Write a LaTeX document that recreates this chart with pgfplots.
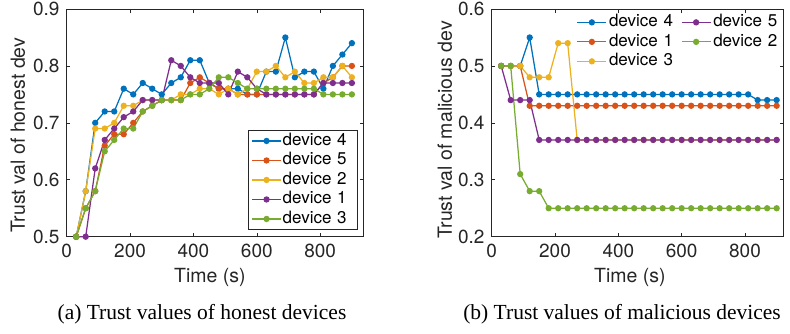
\documentclass[border=0pt]{standalone}
\usepackage{fontspec}
\setmainfont{Liberation Serif}
\newfontfamily\heros{TeX Gyre Heros}
\usepackage{pgfplots}
\usepackage{pgfplotstable}
\pgfplotsset{compat=1.18}
\definecolor{mblue}{rgb}{0,0.447,0.741}
\definecolor{morange}{rgb}{0.850,0.325,0.098}
\definecolor{myellow}{rgb}{0.929,0.694,0.125}
\definecolor{mpurple}{rgb}{0.494,0.184,0.556}
\definecolor{mgreen}{rgb}{0.466,0.674,0.188}
\definecolor{axgray}{rgb}{0.15,0.15,0.15}
\tikzset{lblfont/.style={font=\heros\fontsize{19.5}{20}\selectfont, text=axgray}}

\pgfplotstableread{
t d4 d5 d2 d1 d3
30 0.50 0.50 0.50 0.50 0.50
60 0.58 0.55 0.58 0.50 0.55
90 0.70 0.58 0.69 0.62 0.58
120 0.72 0.66 0.69 0.67 0.65
150 0.72 0.68 0.70 0.69 0.67
180 0.76 0.68 0.73 0.71 0.69
210 0.75 0.70 0.73 0.72 0.69
240 0.77 0.72 0.74 0.74 0.72
270 0.76 0.73 0.74 0.74 0.73
300 0.75 0.74 0.74 0.74 0.74
330 0.77 0.74 0.74 0.81 0.74
360 0.78 0.74 0.75 0.80 0.74
390 0.81 0.77 0.75 0.78 0.75
420 0.81 0.78 0.76 0.77 0.75
450 0.77 0.77 0.76 0.77 0.76
480 0.76 0.76 0.75 0.77 0.78
510 0.76 0.76 0.76 0.75 0.78
540 0.76 0.75 0.75 0.79 0.77
570 0.75 0.75 0.76 0.78 0.76
600 0.75 0.75 0.79 0.76 0.76
630 0.79 0.75 0.79 0.75 0.76
660 0.79 0.75 0.80 0.75 0.76
690 0.85 0.75 0.78 0.75 0.76
720 0.78 0.75 0.79 0.75 0.76
750 0.79 0.75 0.77 0.75 0.76
780 0.79 0.75 0.77 0.75 0.76
810 0.76 0.77 0.78 0.77 0.75
840 0.80 0.78 0.78 0.77 0.75
870 0.82 0.80 0.80 0.77 0.75
900 0.84 0.80 0.78 0.77 0.75
}\honest

\pgfplotstableread{
t d4 d1 d3 d5 d2
30 0.50 0.50 0.50 0.50 0.50
60 0.50 0.50 0.50 0.44 0.50
90 0.50 0.50 0.50 0.44 0.31
120 0.55 0.43 0.48 0.44 0.28
150 0.45 0.43 0.48 0.37 0.28
180 0.45 0.43 0.48 0.37 0.25
210 0.45 0.43 0.54 0.37 0.25
240 0.45 0.43 0.54 0.37 0.25
270 0.45 0.43 0.37 0.37 0.25
300 0.45 0.43 0.37 0.37 0.25
330 0.45 0.43 0.37 0.37 0.25
360 0.45 0.43 0.37 0.37 0.25
390 0.45 0.43 0.37 0.37 0.25
420 0.45 0.43 0.37 0.37 0.25
450 0.45 0.43 0.37 0.37 0.25
480 0.45 0.43 0.37 0.37 0.25
510 0.45 0.43 0.37 0.37 0.25
540 0.45 0.43 0.37 0.37 0.25
570 0.45 0.43 0.37 0.37 0.25
600 0.45 0.43 0.37 0.37 0.25
630 0.45 0.43 0.37 0.37 0.25
660 0.45 0.43 0.37 0.37 0.25
690 0.45 0.43 0.37 0.37 0.25
720 0.45 0.43 0.37 0.37 0.25
750 0.45 0.43 0.37 0.37 0.25
780 0.45 0.43 0.37 0.37 0.25
810 0.45 0.43 0.37 0.37 0.25
840 0.44 0.43 0.37 0.37 0.25
870 0.44 0.43 0.37 0.37 0.25
900 0.44 0.43 0.37 0.37 0.25
}\malicious

\pgfplotsset{
  mystyle/.style={
    scale only axis,
    height=227.7pt,
    xmin=0,
    clip=false,
    axis line style={draw=axgray, line width=0.6pt},
    tick align=inside,
    major tick length=3.5pt,
    every tick/.style={axgray, line width=0.6pt},
    xtick={0,200,400,600,800},
    /pgf/number format/assume math mode=true,
    ticklabel style={font=\heros\fontsize{19}{19}\selectfont, text=axgray},
    xticklabel style={yshift=-4pt},
    yticklabel style={xshift=-3.7pt, /pgf/number format/.cd, fixed, fixed zerofill, precision=1},
    legend cell align=left,
    legend image code/.code={\draw[mark repeat=2,mark phase=2] plot coordinates {(0pt,0pt) (14.5pt,0pt) (29pt,0pt)};},
    every axis plot/.append style={line width=1.25pt, mark=*, mark size=2.5pt},
  },
}

\begin{document}
\begin{tikzpicture}[x=1pt,y=1pt]
\path[use as bounding box] (0,0) rectangle (790,333);

\begin{axis}[mystyle,
  at={(66.7pt,96.3pt)}, anchor=south west,
  width=296.6pt,
  xmax=936, ymin=0.5, ymax=0.9,
  ytick={0.5,0.6,0.7,0.8,0.9},
  xlabel={Time (s)},
  ylabel={Trust val of honest dev},
  every axis x label/.style={lblfont, at={(axis description cs:0.483,0)}, anchor=base, yshift=-45.3pt},
  every axis y label/.style={lblfont, at={(axis description cs:-0.1406,0.446)}, rotate=90, anchor=base},
  legend style={font=\heros\fontsize{17}{17}\selectfont, draw=axgray, line width=0.6pt,
    at={(rel axis cs:0.981,0.0294)}, anchor=south east,
    inner xsep=3pt, inner ysep=1pt,
    nodes={inner xsep=1pt, inner ysep=1pt, text height=13pt, text depth=4.5pt, text width=70.7pt}},
]
\addplot[color=mblue] table[x=t,y=d4] {\honest};
\addlegendentry{device 4}
\addplot[color=morange] table[x=t,y=d5] {\honest};
\addlegendentry{device 5}
\addplot[color=myellow] table[x=t,y=d2] {\honest};
\addlegendentry{device 2}
\addplot[color=mpurple] table[x=t,y=d1] {\honest};
\addlegendentry{device 1}
\addplot[color=mgreen] table[x=t,y=d3] {\honest};
\addlegendentry{device 3}
\end{axis}

\begin{axis}[mystyle,
  at={(491.7pt,96.3pt)}, anchor=south west,
  width=291.6pt,
  xmax=921, ymin=0.2, ymax=0.6,
  ytick={0.2,0.3,0.4,0.5,0.6},
  xlabel={Time (s)},
  ylabel={Trust val of malicious dev},
  every axis x label/.style={lblfont, at={(axis description cs:0.474,0)}, anchor=base, yshift=-45.3pt},
  every axis y label/.style={lblfont, at={(axis description cs:-0.137,0.469)}, rotate=90, anchor=base},
  legend columns=2,
  legend style={font=\heros\fontsize{17}{17}\selectfont, draw=none, fill=none,
    at={(rel axis cs:0.291,0.985)}, anchor=north west,
    inner xsep=0pt, inner ysep=0pt,
    nodes={inner xsep=2pt, inner ysep=1pt, text height=13pt, text depth=4.5pt, text width=70pt}},
]
\addplot[color=mblue, forget plot] table[x=t,y=d4] {\malicious};
\addplot[color=morange, forget plot] table[x=t,y=d1] {\malicious};
\addplot[color=myellow, forget plot] table[x=t,y=d3] {\malicious};
\addplot[color=mpurple, forget plot] table[x=t,y=d5] {\malicious};
\addplot[color=mgreen, forget plot] table[x=t,y=d2] {\malicious};
\addlegendimage{color=mblue, line width=1.25pt, mark=*, mark size=2.5pt}
\addlegendentry{device 4}
\addlegendimage{color=mpurple, line width=1.25pt, mark=*, mark size=2.5pt}
\addlegendentry{device 5}
\addlegendimage{color=morange, line width=1.25pt, mark=*, mark size=2.5pt}
\addlegendentry{device 1}
\addlegendimage{color=mgreen, line width=1.25pt, mark=*, mark size=2.5pt}
\addlegendentry{device 2}
\addlegendimage{color=myellow, line width=1.25pt, mark=*, mark size=2.5pt}
\addlegendentry{device 3}
\end{axis}

\node[font=\fontsize{21.5}{22}\selectfont, anchor=base] at (202,14) {(a) Trust values of honest devices};
\node[font=\fontsize{21.5}{22}\selectfont, anchor=base] at (622,14) {(b) Trust values of malicious devices};
\end{tikzpicture}
\end{document}
